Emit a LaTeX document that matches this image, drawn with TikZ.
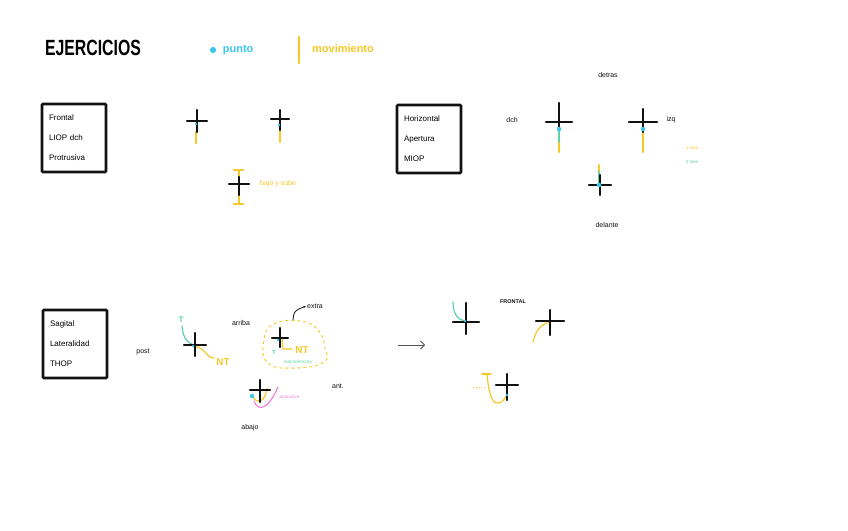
\documentclass[tikz,border=0pt]{standalone}
\usepackage{fontspec}
\setmainfont{Liberation Sans}
\usetikzlibrary{arrows.meta, calc, positioning}
\definecolor{apBlack}{HTML}{111111}
\definecolor{apCyan}{HTML}{3EC6F0}
\definecolor{apYellow}{HTML}{F6C928}
\definecolor{apGreen}{HTML}{5ED3A4}
\definecolor{apPink}{HTML}{F27AD6}
\definecolor{apGrey}{HTML}{555555}
\tikzset{
  cruz/.style     = {apBlack, line width=2.2pt, line cap=round},
  movy/.style     = {apYellow, line width=2.4pt, line cap=round},
  movg/.style     = {apGreen,  line width=2.4pt, line cap=round},
  curvy/.style    = {apYellow, line width=1.2pt, line cap=round},
  curvg/.style    = {apGreen,  line width=1.2pt, line cap=round},
  curvp/.style    = {apPink,   line width=1.1pt, line cap=round},
  punto/.style    = {circle, fill=apCyan, inner sep=1.6pt},
  puntito/.style  = {circle, fill=apCyan, inner sep=1pt},
  caja/.style     = {draw=apBlack, line width=2.6pt, rounded corners=1pt,
                     minimum width=64pt, minimum height=68pt, text width=50pt,
                     align=left, inner sep=4pt, font=\fontsize{8}{20}\selectfont},
  lbl/.style      = {font=\fontsize{7}{8}\selectfont, apBlack, inner sep=1pt},
  ylbl/.style     = {font=\fontsize{7}{8}\selectfont, apYellow, inner sep=1pt},
  tiny/.style     = {font=\fontsize{4.5}{5}\selectfont, inner sep=0.5pt},
  nt/.style       = {font=\fontsize{10}{10}\bfseries, apYellow, inner sep=1pt},
}

\begin{document}
\begin{tikzpicture}[x=1pt, y=-1pt]
  \fill[white] (0,0) rectangle (848,530);

  % title + legend
  \node[font=\fontsize{22}{22}\bfseries, xscale=0.72] (titulo) at (93,48) {EJERCICIOS};
  \node[punto, inner sep=2.2pt] (leyPunto) at (213,50) {};
  \node[font=\fontsize{11}{11}\bfseries, apCyan, right=3pt of leyPunto] (txtPunto) {punto};
  \draw[movy, line width=2.6pt] (299,37) -- (299,63);
  \node[font=\fontsize{11}{11}\bfseries, apYellow] (txtMov) at (343,49) {movimiento};

  % boxes
  \node[caja] (frontal) at (74,138)    {Frontal\\LIOP dch\\Protrusiva};
  \node[caja] (horizontal) at (429,139) {Horizontal\\Apertura\\MIOP};
  \node[caja] (sagital) at (75,344)     {Sagital\\Lateralidad\\THOP};

  % ---- frontal : movement
  \draw[movy] (196,132) -- (196,143);
  \draw[movy] (280,127) -- (280,142);
  \draw[movy] (239,170) -- (239,204);
  \draw[movy] (234,170) -- (243,170);
  \draw[movy] (234,204) -- (243,204);
  \node[ylbl, anchor=west] (bajoSube) at (259,184) {bajo y sube};

  % ---- horizontal : movement (1 fase / 2 fase)
  \draw[movg] (559,130) -- (559,143);
  \draw[movy] (559,143) -- (559,152);
  \draw[movy] (643,130) -- (643,152);
  \draw[movy] (599,165) -- (599,172);
  \draw[movg] (599,172) -- (599,184);
  \node[lbl] (dch)     at (512,120) {dch};
  \node[lbl] (detras)  at (608,75)  {detras};
  \node[lbl] (izq)     at (671,120) {izq};
  \node[lbl] (delante) at (607,225) {delante};
  \node[tiny, apYellow] (fase1) at (692,148) {1 fase};
  \node[tiny, apGreen]  (fase2) at (692,162) {2 fase};

  % ---- sagital : movement
  \node[font=\fontsize{8}{8}\bfseries, apGreen, inner sep=0pt] (tD) at (181,320) {T};
  \draw[curvg] (182,326) .. controls (183,339) and (188,343) .. (194,345);
  \draw[curvy] (196,347) .. controls (205,347) and (206,358) .. (214,358);
  \node[nt] (ntD) at (223,362) {NT};

  \draw[apYellow, line width=0.9pt, dash pattern=on 3pt off 3pt]
    plot[smooth cycle, tension=0.8] coordinates
    {(300,321) (318,330) (325,348) (324,362) (296,368) (268,363) (264,340) (274,324)};
  \draw[curvy] (282,338) -- (283,349) -- (292,349);
  \node[nt] (ntE) at (302,350) {NT};
  \node[font=\fontsize{6}{6}\bfseries, apGreen, inner sep=0pt] (tE) at (274,352) {T};
  \node[tiny, apGreen] (latero) at (298,362) {lateroderecha};
  \coordinate (extraPie) at (293,320);
  \node[lbl] (extra) at (315,306) {extra};
  \draw[apBlack, line width=0.8pt, -{Stealth[length=3pt]}]
    (extraPie) .. controls (294,311) .. (extra.west);

  \draw[curvy] (253,397) .. controls (257,404) and (265,403) .. (267,388);
  \draw[curvp] (254,401) .. controls (258,412) and (268,410) .. (278,387);
  \node[tiny, apPink, anchor=west] (protru) at (279,397) {protrusiva};

  \node[lbl] (post)   at (143,352) {post};
  \node[lbl] (arriba) at (241,323) {arriba};
  \node[lbl] (ant)    at (338,386) {ant.};
  \node[lbl] (abajo)  at (250,428) {abajo};

  % ---- right group
  \coordinate (flechaIni) at (398,345);
  \coordinate (flechaFin) at (425,345);
  \draw[apGrey, line width=0.8pt, -{Straight Barb[length=4pt]}] (flechaIni) -- (flechaFin);
  \node[tiny, apBlack, font=\fontsize{5.5}{6}\bfseries] (frontalT) at (513,302) {FRONTAL};
  \draw[curvg] (453,302) .. controls (453,314) and (458,320) .. (465,321);
  \draw[curvy] (549,322) .. controls (539,325) and (535,333) .. (533,342);
  \draw[curvy] (482,374) -- (491,374);
  \draw[curvy] (487,374) .. controls (489,398) and (494,405) .. (499,403)
                         .. controls (503,401) .. (507,395);
  \draw[apYellow, line width=0.8pt, dotted] (473,387) -- (485,387);

  % crosses  x / y / half width / up / down
  \foreach \cx/\cy/\hw/\up/\dn in {197/121/10/11/11, 280/119/9/9/11, 239/184/10/7/11,
      559/122/13/19/8, 643/122/14/13/10, 600/185/11/10/10,
      195/345/11/12/11, 280/338/8/10/9, 260/390/10/10/12,
      466/322/13/19/12, 550/321/14/11/14, 507/385/11/11/15} {
    \draw[cruz] (\cx-\hw,\cy) -- (\cx+\hw,\cy);
    \draw[cruz] (\cx,\cy-\up) -- (\cx,\cy+\dn);
  }

  % punto
  \node[puntito] (p1) at (196,124) {};
  \node[puntito] (p2) at (279,125) {};
  \node[punto] (pA) at (559,129) {};
  \node[punto] (pB) at (643,129) {};
  \node[punto] (pC) at (599,185) {};
  \node[puntito] (pD) at (193,346) {};
  \node[puntito] (pE) at (278,340) {};
  \node[punto] (pF) at (252,396) {};
  \node[puntito] (pG) at (465,321) {};
  \node[puntito] (pI) at (507,395) {};
\end{tikzpicture}
\end{document}
